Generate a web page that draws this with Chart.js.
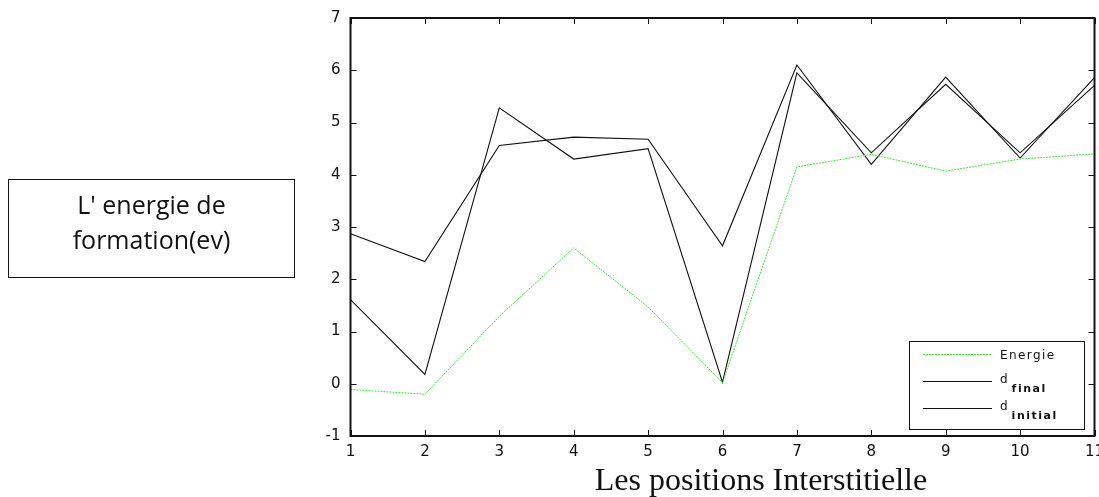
<!DOCTYPE html>
<html>
<head>
<meta charset="utf-8">
<script src="https://cdn.jsdelivr.net/npm/chart.js@4/dist/chart.umd.min.js"></script>
<style>
  html, body { margin: 0; padding: 0; background: #fff; }
  #wrap { position: relative; width: 1099px; height: 497px; }
  #chart { position: absolute; left: 0; top: 0; }
  #ylabel {
    position: absolute; left: 8px; top: 179px; width: 285px; height: 97px;
    border: 1.5px solid #111; box-sizing: content-box;
    font-family: "Open Sans", "Noto Sans", sans-serif; font-size: 25px; color: #111;
    text-align: center; line-height: 35px;
    display: flex; flex-direction: column; justify-content: center;
  }
  #ylabel div { position: relative; top: -7px; }
</style>
</head>
<body>
<div id="wrap">
  <canvas id="chart" width="1099" height="497"></canvas>
  <div id="ylabel"><div>L' energie de</div><div>formation(ev)</div></div>
</div>
<script>
// Interstitial positions along the x axis
const positions = ['1', '2', '3', '4', '5', '6', '7', '8', '9', '10', '11'];
// Formation energy (eV) per position
const energie = [-0.11, -0.20, 1.29, 2.60, 1.47, 0.02, 4.15, 4.39, 4.07, 4.30, 4.40];
// Final and initial distances per position
const dFinal = [2.87, 2.34, 4.56, 4.72, 4.68, 2.64, 6.10, 4.20, 5.87, 4.32, 5.86];
const dInitial = [1.61, 0.18, 5.28, 4.30, 4.50, 0.03, 5.95, 4.42, 5.73, 4.42, 5.71];
// Value axis range and step
const yMin = -1, yMax = 7, yStep = 1;
const xTitle = 'Les positions Interstitielle';

// Frame around the plot with inward ticks on all four sides, plus the x title
const framePlugin = {
  id: 'frame',
  afterDraw(chart, args, opts) {
    const { ctx, chartArea: a, scales } = chart;
    const len = 6;
    ctx.save();
    ctx.strokeStyle = '#111';
    ctx.lineWidth = 1;
    scales.x.ticks.forEach((t, i) => {
      const px = Math.round(scales.x.getPixelForTick(i)) + 0.5;
      ctx.beginPath();
      ctx.moveTo(px, a.bottom); ctx.lineTo(px, a.bottom - len);
      ctx.moveTo(px, a.top); ctx.lineTo(px, a.top + len);
      ctx.stroke();
    });
    scales.y.ticks.forEach((t) => {
      const py = Math.round(scales.y.getPixelForValue(t.value)) + 0.5;
      ctx.beginPath();
      ctx.moveTo(a.left, py); ctx.lineTo(a.left + len, py);
      ctx.moveTo(a.right, py); ctx.lineTo(a.right - len, py);
      ctx.stroke();
    });
    ctx.lineWidth = 2;
    ctx.strokeRect(a.left, a.top, a.right - a.left, a.bottom - a.top);

    ctx.fillStyle = '#111';
    ctx.font = '32px "Liberation Serif", "Times New Roman", serif';
    ctx.textAlign = 'center';
    ctx.textBaseline = 'alphabetic';
    ctx.fillText(opts.title, opts.titleX, opts.titleY);
    ctx.restore();
  }
};

// Boxed legend in the lower right corner; "_" marks a subscript
const legendPlugin = {
  id: 'boxLegend',
  afterDraw(chart, args, o) {
    const { ctx } = chart;
    const fam = '"DejaVu Sans", "Liberation Sans", sans-serif';
    ctx.save();
    ctx.fillStyle = '#fff';
    ctx.fillRect(o.x, o.y, o.w, o.h);
    ctx.strokeStyle = '#111';
    ctx.lineWidth = 1;
    ctx.strokeRect(o.x + 0.5, o.y + 0.5, o.w, o.h);
    chart.data.datasets.forEach((ds, i) => {
      const cy = o.y + o.firstRow + i * o.rowGap;
      ctx.strokeStyle = ds.borderColor;
      ctx.lineWidth = 1;
      ctx.setLineDash(ds.borderDash || []);
      ctx.beginPath();
      ctx.moveTo(o.x + 14, Math.round(cy) + 0.5);
      ctx.lineTo(o.x + 83, Math.round(cy) + 0.5);
      ctx.stroke();
      ctx.setLineDash([]);
      ctx.fillStyle = '#111';
      ctx.textBaseline = 'alphabetic';
      ctx.textAlign = 'left';
      const parts = ds.label.split('_');
      const tx = o.x + 91;
      ctx.font = '12px ' + fam;
      if (parts.length === 1) {
        ctx.letterSpacing = '1.4px';
        ctx.fillText(parts[0], tx, cy + 5);
        ctx.letterSpacing = '0px';
      } else {
        ctx.fillText(parts[0], tx, cy + 2);
        const w = ctx.measureText(parts[0]).width;
        ctx.font = 'bold 11px ' + fam;
        ctx.letterSpacing = '1.5px';
        ctx.fillText(parts[1], tx + w + 4, cy + 11);
        ctx.letterSpacing = '0px';
      }
    });
    ctx.restore();
  }
};

new Chart(document.getElementById('chart'), {
  type: 'line',
  data: {
    labels: positions,
    datasets: [
      { label: 'Energie', data: energie, borderColor: '#33f233', borderWidth: 1, borderDash: [2, 1] },
      { label: 'd_final', data: dFinal, borderColor: '#111', borderWidth: 1.1 },
      { label: 'd_initial', data: dInitial, borderColor: '#111', borderWidth: 1.1 }
    ]
  },
  options: {
    responsive: false,
    animation: false,
    devicePixelRatio: 1,
    elements: { point: { radius: 0 }, line: { tension: 0 } },
    layout: { padding: { left: 0, right: 4.5, top: 18, bottom: 0 } },
    plugins: {
      legend: { display: false },
      tooltip: { enabled: false },
      frame: { title: xTitle, titleX: 761, titleY: 490 },
      boxLegend: { x: 909, y: 341, w: 175, h: 88, firstRow: 13, rowGap: 27 }
    },
    scales: {
      x: {
        type: 'category',
        offset: false,
        grid: { display: false, drawTicks: false },
        border: { display: false },
        ticks: { color: '#111', padding: 7, maxRotation: 0, autoSkip: false,
                 font: { family: '"DejaVu Sans", "Liberation Sans", sans-serif', size: 15 } },
        afterFit(scale) { scale.height = 61; scale.paddingLeft = 0; scale.paddingRight = 0; }
      },
      y: {
        min: yMin, max: yMax,
        grid: { display: false, drawTicks: false },
        border: { display: false },
        ticks: { stepSize: yStep, color: '#111', padding: 10,
                 font: { family: '"DejaVu Sans", "Liberation Sans", sans-serif', size: 15 } },
        afterFit(scale) { scale.width = 350.5; scale.paddingTop = 0; scale.paddingBottom = 0; }
      }
    }
  },
  plugins: [framePlugin, legendPlugin]
});
</script>
</body>
</html>
